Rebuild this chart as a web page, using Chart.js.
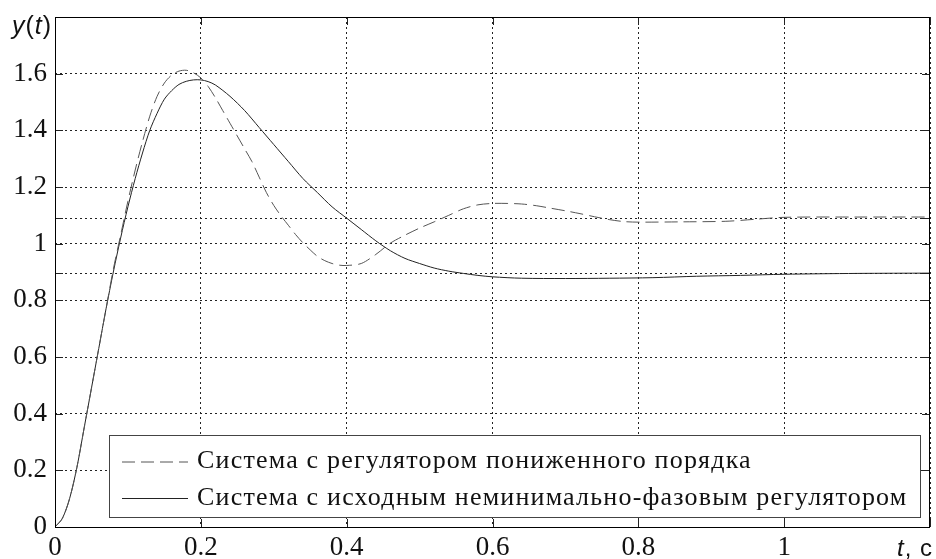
<!DOCTYPE html>
<html><head><meta charset="utf-8">
<script src="https://cdn.jsdelivr.net/npm/chart.js@4.4.1/dist/chart.umd.min.js"></script>
<style>html,body{margin:0;padding:0;background:#fff}#wrap{width:936px;height:559px}</style>
</head><body><div id="wrap"><canvas id="c" width="936" height="559"></canvas></div>
<script>
// ---- data ----
const seriesLabels = ['Система с регулятором пониженного порядка', 'Система с исходным неминимально-фазовым регулятором'];
const tDashed = [0,0.01,0.02,0.03,0.04,0.05,0.06,0.07,0.08,0.09,0.10,0.11,0.12,0.13,0.14,0.15,0.16,0.17,0.18,0.19,0.20,0.21,0.22,0.23,0.24,0.25,0.26,0.27,0.28,0.29,0.30,0.31,0.32,0.33,0.34,0.35,0.36,0.37,0.38,0.39,0.40,0.42,0.44,0.46,0.48,0.50,0.52,0.54,0.56,0.58,0.60,0.62,0.64,0.66,0.68,0.70,0.72,0.74,0.76,0.78,0.80,0.86,0.92,0.96,1.00,1.10,1.20];
const yDashed = [0,0.03,0.10,0.21,0.35,0.49,0.63,0.77,0.91,1.03,1.15,1.26,1.36,1.45,1.52,1.567,1.595,1.609,1.612,1.603,1.585,1.555,1.515,1.47,1.425,1.38,1.335,1.29,1.235,1.18,1.135,1.098,1.065,1.032,1.003,0.978,0.955,0.94,0.93,0.924,0.923,0.93,0.962,1.002,1.03,1.055,1.077,1.10,1.123,1.137,1.142,1.142,1.14,1.134,1.125,1.116,1.106,1.095,1.085,1.078,1.076,1.077,1.079,1.086,1.093,1.094,1.094];
const tSolid = [0,0.01,0.02,0.03,0.04,0.05,0.06,0.07,0.08,0.09,0.10,0.11,0.12,0.13,0.14,0.15,0.16,0.17,0.18,0.19,0.20,0.21,0.22,0.24,0.26,0.28,0.30,0.32,0.34,0.36,0.38,0.40,0.42,0.44,0.46,0.48,0.50,0.52,0.54,0.56,0.58,0.60,0.64,0.70,0.76,0.82,0.88,0.94,1.00,1.10,1.20];
const ySolid = [0,0.03,0.10,0.21,0.35,0.49,0.63,0.77,0.90,1.02,1.13,1.23,1.32,1.40,1.46,1.51,1.54,1.562,1.573,1.578,1.578,1.572,1.56,1.52,1.47,1.41,1.35,1.29,1.23,1.18,1.13,1.09,1.05,1.01,0.975,0.948,0.93,0.914,0.903,0.895,0.888,0.883,0.878,0.877,0.878,0.880,0.885,0.888,0.892,0.895,0.896];
const xTicks = [0,0.2,0.4,0.6,0.8,1.0,1.2];
const xTickLabels = ['0','0.2','0.4','0.6','0.8','1',''];
const yTicks = [0,0.2,0.4,0.6,0.8,1.0,1.2,1.4,1.6,1.8];
const yTickLabels = ['0','0.2','0.4','0.6','0.8','1','1.2','1.4','1.6',''];
const steadyLevels = [0.895, 1.09]; // extra unlabeled y ticks / grid lines
const xTitle = ['t', ', c'];
const yTitle = ['y', '(', 't', ')'];

const SERIF = '"Liberation Serif","Times New Roman",serif';
const SANS = '"Liberation Sans",Arial,sans-serif';

function toPts(t, y){ return t.map((v,i)=>({x:v, y:y[i]})); }

const frame = {
  id:'frame',
  afterDatasetsDraw(chart){
    const {ctx} = chart;
    const bx=109, by=435.5, bw=811, bh=82;
    ctx.save();
    ctx.fillStyle='#fff';
    ctx.fillRect(bx,by,bw,bh);
    ctx.strokeStyle='#444'; ctx.lineWidth=1;
    ctx.strokeRect(bx+0.5,by,bw,bh);
    ctx.font='26px '+SERIF;
    ctx.letterSpacing='1.2px';
    ctx.fillStyle='#111';
    ctx.textBaseline='middle';
    const rows=[461.5,498];
    chart.data.datasets.forEach((ds,i)=>{
      ctx.strokeStyle=ds.borderColor; ctx.lineWidth=1;
      ctx.setLineDash(ds.borderDash||[]);
      ctx.beginPath(); ctx.moveTo(122,rows[i]+0.5); ctx.lineTo(188,rows[i]+0.5); ctx.stroke();
      ctx.setLineDash([]);
      ctx.fillText(ds.label,197,rows[i]);
    });
    ctx.restore();
  },
  afterDraw(chart){
    const {ctx, chartArea:a, scales} = chart;
    ctx.save();
    ctx.strokeStyle='#222'; ctx.lineWidth=1;
    const L=8;
    ctx.beginPath();
    scales.x.ticks.forEach(tk=>{
      const px=Math.round(scales.x.getPixelForValue(tk.value))+0.5;
      ctx.moveTo(px,a.bottom); ctx.lineTo(px,a.bottom-L);
      ctx.moveTo(px,a.top); ctx.lineTo(px,a.top+L);
    });
    scales.y.ticks.forEach(tk=>{
      const py=Math.round(scales.y.getPixelForValue(tk.value))+0.5;
      ctx.moveTo(a.left,py); ctx.lineTo(a.left+L,py);
      ctx.moveTo(a.right,py); ctx.lineTo(a.right-L,py);
    });
    ctx.stroke();
    ctx.strokeStyle='#000';
    ctx.strokeRect(Math.round(a.left)+0.5, Math.round(a.top)+0.5, Math.round(a.right-a.left)-1, Math.round(a.bottom-a.top));
    ctx.fillStyle='#111';
    ctx.textBaseline='alphabetic';
    ctx.letterSpacing='1px';
    let x=12; const yb=34;
    yTitle.forEach((s,i)=>{
      ctx.font=(i%2===0?'italic ':'')+'25px '+SANS;
      ctx.fillText(s,x,yb); x+=ctx.measureText(s).width;
    });
    x=897;
    xTitle.forEach((s,i)=>{
      ctx.font=(i===0?'italic ':'')+'24px '+SANS;
      ctx.fillText(s,x,556); x+=ctx.measureText(s).width;
    });
    ctx.restore();
  }
};

new Chart(document.getElementById('c'), {
  type:'line',
  data:{datasets:[
    {label:seriesLabels[0], data:toPts(tDashed,yDashed), borderColor:'#555', borderWidth:1, borderDash:[13,6], pointRadius:0, tension:0.3, fill:false},
    {label:seriesLabels[1], data:toPts(tSolid,ySolid), borderColor:'#222', borderWidth:1, pointRadius:0, tension:0.3, fill:false}
  ]},
  options:{
    responsive:false, animation:false, devicePixelRatio:1,
    layout:{padding:{top:17,right:6,left:0,bottom:0}},
    plugins:{legend:{display:false}, tooltip:{enabled:false}},
    scales:{
      x:{type:'linear', min:0, max:1.2,
        afterBuildTicks:s=>{s.ticks=xTicks.map(v=>({value:v}));},
        afterFit:s=>{s.height=32; s.paddingLeft=0; s.paddingRight=0;},
        grid:{drawTicks:false, color:'#222', lineWidth:1},
        border:{display:false, dash:[2,3]},
        ticks:{autoSkip:false, maxRotation:0, padding:5, color:'#111', font:{family:SERIF, size:27},
          callback:(v)=>{const i=xTicks.findIndex(t=>Math.abs(t-v)<1e-9); return i>=0?xTickLabels[i]:'';}}
      },
      y:{type:'linear', min:0, max:1.8,
        afterBuildTicks:s=>{s.ticks=yTicks.concat(steadyLevels).sort((a,b)=>a-b).map(v=>({value:v}));},
        afterFit:s=>{s.width=55; s.paddingTop=0; s.paddingBottom=0;},
        grid:{drawTicks:false, color:'#222', lineWidth:1},
        border:{display:false, dash:[2,3]},
        ticks:{autoSkip:false, padding:8, color:'#111', font:{family:SERIF, size:27},
          callback:(v)=>{const i=yTicks.findIndex(t=>Math.abs(t-v)<1e-9); return i>=0?yTickLabels[i]:'';}}
      }
    }
  },
  plugins:[frame]
});
</script></body></html>
